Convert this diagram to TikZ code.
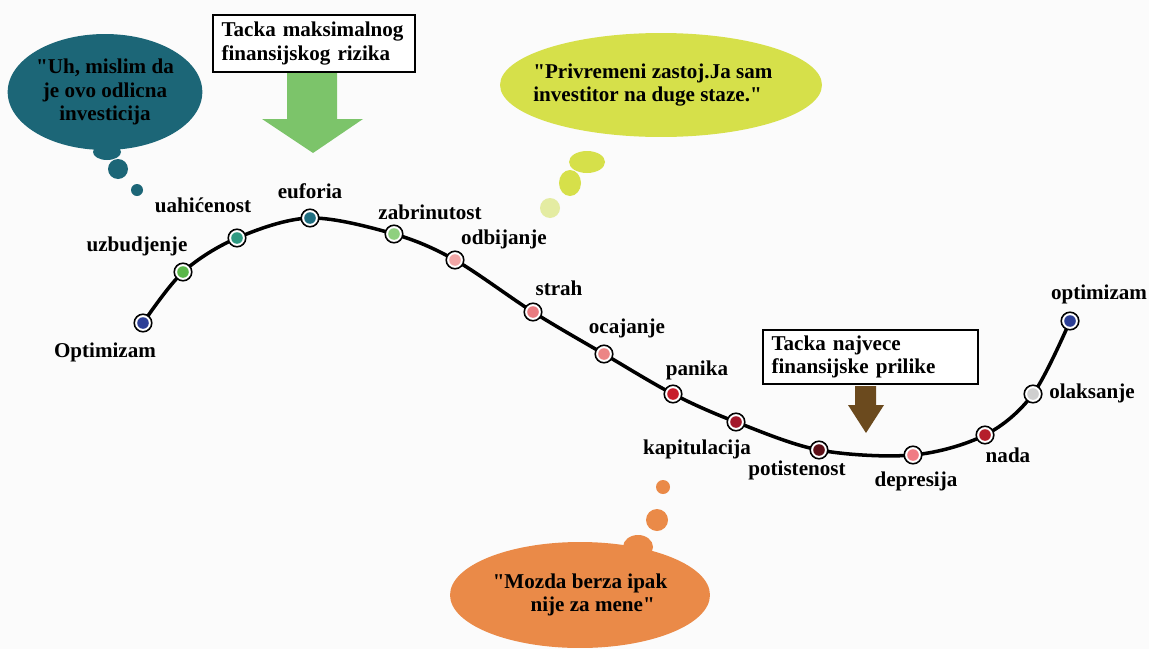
\documentclass[tikz,border=0pt]{standalone}
\usepackage{fontspec}
\setmainfont{Liberation Serif}
\usetikzlibrary{shapes.geometric}

\definecolor{bg}{HTML}{FBFBFB}
\definecolor{tealB}{HTML}{1C6677}
\definecolor{limeB}{HTML}{D6E04A}
\definecolor{limeL}{HTML}{E4ECA2}
\definecolor{orangeB}{HTML}{EA8A48}
\definecolor{greenA}{HTML}{7CC46A}
\definecolor{brownA}{HTML}{6B4A1E}
\definecolor{cOpt}{HTML}{2D3F96}
\definecolor{cUzb}{HTML}{5BB74A}
\definecolor{cUah}{HTML}{2F9A82}
\definecolor{cEuf}{HTML}{1F6E80}
\definecolor{cZab}{HTML}{8FD07F}
\definecolor{cOdb}{HTML}{F2A6A6}
\definecolor{cStr}{HTML}{E97B80}
\definecolor{cOca}{HTML}{EC8585}
\definecolor{cPan}{HTML}{C81E2C}
\definecolor{cKap}{HTML}{A3172A}
\definecolor{cPot}{HTML}{5E1018}
\definecolor{cDep}{HTML}{F07C84}
\definecolor{cNad}{HTML}{B51F2B}
\definecolor{cOla}{HTML}{CFCFCF}

\newcommand{\dq}{\textquotedbl}

\tikzset{
  txt/.style={font=\bfseries\fontsize{12}{13.5}\selectfont, text=black, inner sep=0pt},
  lbl/.style={txt},
  dot/.style={circle, draw=black, line width=0.9pt, fill=white, inner sep=0pt,
    minimum size=10pt,
    path picture={\fill[#1] (path picture bounding box.center) circle (3.3pt);}},
  curve/.style={draw=black, line width=2pt, line cap=round},
  infobox/.style={txt, draw=black, line width=1.2pt, fill=white, align=left,
    inner xsep=5pt, inner ysep=3pt, anchor=center},
  bubble/.style={ellipse, fill=#1, inner sep=0pt, txt},
  puff/.style={fill=#1},
}

\begin{document}
\begin{tikzpicture}[x=0.02cm, y=-0.02cm]
\fill[bg] (0,0) rectangle (1149,649);
\useasboundingbox (0,0) rectangle (1149,649);

% thought bubbles
\node[bubble=tealB, minimum width=3.8cm, minimum height=2.32cm, align=center] (tb) at (105,92)
  {\dq Uh, mislim da\\je ovo odlicna\\investicija};
\fill[puff=tealB] (107,152) ellipse [x radius=14, y radius=8];
\fill[puff=tealB] (118,169) circle [radius=10];
\fill[puff=tealB] (137,190) circle [radius=6];

\node[bubble=limeB, minimum width=6.44cm, minimum height=2.08cm] (yb) at (661,85) {};
\node[txt, align=left, anchor=west] (yt) at (533,85)
  {\dq Privremeni zastoj.Ja sam\\investitor na duge staze.\dq};
\fill[puff=limeB] (587,162) ellipse [x radius=18, y radius=11];
\fill[puff=limeB] (570,183) ellipse [x radius=11, y radius=13];
\fill[puff=limeL] (550,208) circle [radius=10];

\fill[puff=orangeB] (638,547) ellipse [x radius=15, y radius=12];
\node[bubble=orangeB, minimum width=5.2cm, minimum height=2.12cm, align=center] (ob) at (580,595)
  {\dq Mozda berza ipak\\\hspace*{1.2em}nije za mene\dq};
\fill[puff=orangeB] (657,520) circle [radius=11];
\fill[puff=orangeB] (663,487) circle [radius=7];

% points of the cycle
\coordinate (p1) at (143,323);
\coordinate (p2) at (183,272);
\coordinate (p3) at (237,238);
\coordinate (p4) at (310,218);
\coordinate (p5) at (394,234);
\coordinate (p6) at (455,260);
\coordinate (p7) at (533,312);
\coordinate (p8) at (604,354);
\coordinate (p9) at (673,394);
\coordinate (p10) at (736,422);
\coordinate (p11) at (819,450);
\coordinate (p12) at (913,455);
\coordinate (p13) at (985,435);
\coordinate (p14) at (1033,394);
\coordinate (p15) at (1070,321);

\draw[curve] plot[smooth, tension=0.55] coordinates
  {(p1) (p2) (p3) (p4) (p5) (p6) (p7) (p8) (p9) (p10) (p11) (p12) (p13) (p14) (p15)};

\node[dot=cOpt] (d1) at (p1) {};
\node[dot=cUzb] (d2) at (p2) {};
\node[dot=cUah] (d3) at (p3) {};
\node[dot=cEuf] (d4) at (p4) {};
\node[dot=cZab] (d5) at (p5) {};
\node[dot=cOdb] (d6) at (p6) {};
\node[dot=cStr] (d7) at (p7) {};
\node[dot=cOca] (d8) at (p8) {};
\node[dot=cPan] (d9) at (p9) {};
\node[dot=cKap] (d10) at (p10) {};
\node[dot=cPot] (d11) at (p11) {};
\node[dot=cDep] (d12) at (p12) {};
\node[dot=cNad] (d13) at (p13) {};
\node[dot=cOla] (d14) at (p14) {};
\node[dot=cOpt] (d15) at (p15) {};

% stage labels
\node[lbl] (l1) at (105,352) {Optimizam};
\node[lbl] (l2) at (137,246) {uzbudjenje};
\node[lbl] (l3) at (203,205) {uahićenost};
\node[lbl] (l4) at (310,191) {euforia};
\node[lbl] (l5) at (430,212) {zabrinutost};
\node[lbl] (l6) at (504,239) {odbijanje};
\node[lbl] (l7) at (559,288) {strah};
\node[lbl] (l8) at (627,328) {ocajanje};
\node[lbl] (l9) at (697,370) {panika};
\node[lbl] (l10) at (697,449) {kapitulacija};
\node[lbl] (l11) at (797,470) {potistenost};
\node[lbl] (l12) at (916,481) {depresija};
\node[lbl] (l13) at (1008,455) {nada};
\node[lbl] (l14) at (1092,393) {olaksanje};
\node[lbl] (l15) at (1099,294) {optimizam};

% point of maximum risk
\node[infobox, minimum width=4.04cm, minimum height=1.14cm, text width=3.7cm] (rb) at (314,43.5)
  {Tacka maksimalnog\\finansijskog rizika};
\fill[greenA] (287,73) -- (337,73) -- (337,119) -- (363,119) -- (313,153)
  -- (262,119) -- (287,119) -- cycle;

% point of greatest opportunity
\node[infobox, minimum width=4.3cm, minimum height=1cm, text width=3.96cm] (ob2) at (870.5,357)
  {Tacka najvece\\finansijske prilike};
\fill[brownA] (855,386) -- (876,386) -- (876,405) -- (884,405) -- (866,433)
  -- (848,405) -- (855,405) -- cycle;
\end{tikzpicture}
\end{document}
